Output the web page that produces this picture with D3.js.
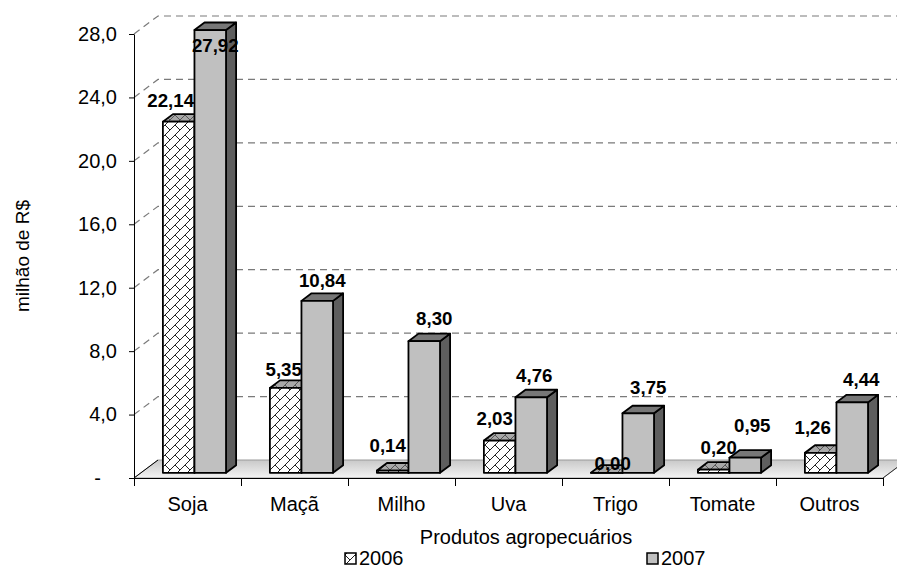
<!DOCTYPE html>
<html>
<head>
<meta charset="utf-8">
<script src="https://cdn.jsdelivr.net/npm/d3@7"></script>
<style>
  body { margin: 0; background: #fff; }
  svg text { font-family: "Liberation Sans", Arial, sans-serif; fill: #000; }
</style>
</head>
<body>
<svg id="chart" width="897" height="570"></svg>
<script>
// Chart data
const categories = ["Soja", "Maçã", "Milho", "Uva", "Trigo", "Tomate", "Outros"];
const years = ["2006", "2007"];
const values2006 = [22.14, 5.35, 0.14, 2.03, 0.00, 0.20, 1.26];
const values2007 = [27.92, 10.84, 8.30, 4.76, 3.75, 0.95, 4.44];
const yTicks = [0, 4, 8, 12, 16, 20, 24, 28];
const xTitle = "Produtos agropecuários";
const yTitle = "milhão de R$";

const series = [
  { year: years[0], values: values2006 },
  { year: years[1], values: values2007 }
];

// Layout of the oblique 3D box
const X0 = 134, X1 = 883, Y0 = 478, YTOP = 34;
const DX = 24, DY = 18;              // depth vector of the floor
const D_FRONT = 0.29, D_BACK = 0.71; // bar depth within the floor
const FONT = 20, LABEL_FONT = 18.7;

const svg = d3.select("#chart");

const x = d3.scaleBand().domain(categories).range([X0, X1]);
const x1 = d3.scaleBand().domain(years)
  .range([x.bandwidth() * 0.205, x.bandwidth() * 0.795]);
const y = d3.scaleLinear().domain([0, 28]).range([Y0, YTOP]);

const P = (px, v, d) => [px + d * DX, y(v) - d * DY];
const poly = pts => "M" + pts.map(p => p.join(",")).join("L") + "Z";

// Patterns and gradients
const defs = svg.append("defs");
const brick = defs.append("pattern")
  .attr("id", "brick").attr("patternUnits", "userSpaceOnUse")
  .attr("width", 10).attr("height", 10);
brick.append("rect").attr("width", 10).attr("height", 10).attr("fill", "#fff");
brick.append("path")
  .attr("d", "M-1,11L11,-1M-1,1L1,-1M9,11L11,9M5,5L10,10M0,10L-1,9M10,0L11,1")
  .attr("stroke", "#222").attr("stroke-width", 1).attr("fill", "none");

const brickTop = defs.append("pattern")
  .attr("id", "brickTop").attr("patternUnits", "userSpaceOnUse")
  .attr("width", 10).attr("height", 10);
brickTop.append("rect").attr("width", 10).attr("height", 10).attr("fill", "#a8a8a8");
brickTop.append("path")
  .attr("d", "M-1,11L11,-1M5,5L10,10")
  .attr("stroke", "#555").attr("stroke-width", 1).attr("fill", "none");

const floorGrad = defs.append("linearGradient")
  .attr("id", "floorGrad").attr("x1", 0).attr("y1", 0).attr("x2", 0).attr("y2", 1);
floorGrad.append("stop").attr("offset", "0%").attr("stop-color", "#c8c8c8");
floorGrad.append("stop").attr("offset", "100%").attr("stop-color", "#f4f4f4");

// Gridlines: side wall diagonal + back wall
const grid = svg.append("g");
grid.selectAll("path")
  .data(yTicks.filter(t => t > 0))
  .join("path")
  .attr("d", t => `M${X0},${y(t)}L${X0 + DX},${y(t) - DY}L${X1 + DX + 10},${y(t) - DY}`)
  .attr("fill", "none")
  .attr("stroke", "#7a7a7a")
  .attr("stroke-width", 1.2)
  .attr("stroke-dasharray", "7,5");

// Floor
svg.append("path")
  .attr("d", poly([P(X0, 0, 0), P(X1, 0, 0), P(X1, 0, 1), P(X0, 0, 1)]))
  .attr("fill", "url(#floorGrad)")
  .attr("stroke", "#9a9a9a").attr("stroke-width", 1);
svg.append("path")
  .attr("d", `M${P(X0, 0, 1).join(",")}L${P(X0, 0, 0).join(",")}`)
  .attr("stroke", "#000").attr("stroke-width", 1).attr("fill", "none");
svg.append("path")
  .attr("d", `M${P(X1, 0, 0).join(",")}L${P(X1, 0, 1).join(",")}`)
  .attr("stroke", "#333").attr("stroke-width", 1).attr("fill", "none");

// Y axis
const fmt = d => d === 0 ? "-" : d.toFixed(1).replace(".", ",");
const yAxis = svg.append("g")
  .attr("transform", `translate(${X0},0)`)
  .call(d3.axisLeft(y).tickValues(yTicks).tickSize(5).tickSizeOuter(0)
    .tickPadding(12).tickFormat(fmt));
yAxis.select(".domain").attr("stroke", "#000");
yAxis.selectAll(".tick line").attr("stroke", "#000");
yAxis.selectAll(".tick text")
  .attr("font-size", FONT).attr("font-family", null)
  .attr("dx", d => d === 0 ? -16 : 0);

// X axis: category boundary ticks
const xBounds = d3.scaleLinear().domain([0, categories.length]).range([X0, X1]);
const xTickAxis = svg.append("g")
  .attr("transform", `translate(0,${Y0})`)
  .call(d3.axisBottom(xBounds).tickValues(d3.range(categories.length + 1))
    .tickSize(8).tickSizeOuter(0).tickFormat(""));
xTickAxis.select(".domain").attr("stroke", "#000");
xTickAxis.selectAll(".tick line").attr("stroke", "#000");

// X axis: category names
const xLabelAxis = svg.append("g")
  .attr("transform", `translate(0,${Y0})`)
  .call(d3.axisBottom(x).tickSize(0).tickPadding(19));
xLabelAxis.select(".domain").remove();
xLabelAxis.selectAll(".tick text").attr("font-size", FONT).attr("font-family", null);

// Bars
const fills = {
  "2006": { front: "url(#brick)", top: "url(#brickTop)", side: "#666" },
  "2007": { front: "#c0c0c0", top: "#777", side: "#5e5e5e" }
};
const bars = svg.append("g");
categories.forEach((c, i) => {
  series.forEach(s => {
    const v = s.values[i];
    const xl = x(c) + x1(s.year);
    const xr = xl + x1.bandwidth();
    const f = fills[s.year];
    const g = bars.append("g")
      .attr("stroke", "#000").attr("stroke-width", 1.8)
      .attr("stroke-linejoin", "round");
    g.append("path").attr("fill", f.side)
      .attr("d", poly([P(xr, 0, D_FRONT), P(xr, 0, D_BACK), P(xr, v, D_BACK), P(xr, v, D_FRONT)]));
    g.append("path").attr("fill", f.top)
      .attr("d", poly([P(xl, v, D_FRONT), P(xr, v, D_FRONT), P(xr, v, D_BACK), P(xl, v, D_BACK)]));
    g.append("path").attr("fill", f.front)
      .attr("d", poly([P(xl, 0, D_FRONT), P(xr, 0, D_FRONT), P(xr, v, D_FRONT), P(xl, v, D_FRONT)]));
  });
});

// Data labels, with the hand adjustments made in the source chart
const labelNudge = {
  "Soja|2006": [-13, 1],
  "Soja|2007": [0, 38],
  "Maçã|2006": [-7, 4],
  "Maçã|2007": [0, 2],
  "Milho|2006": [-10, -3],
  "Milho|2007": [5, 0],
  "Uva|2006": [-10, 0],
  "Uva|2007": [-2, 0],
  "Trigo|2006": [1, 13],
  "Trigo|2007": [5, -4],
  "Tomate|2007": [2, -10],
  "Outros|2006": [-13, -3],
  "Outros|2007": [4, -1]
};
const labels = svg.append("g");
categories.forEach((c, i) => {
  series.forEach(s => {
    const v = s.values[i];
    const nudge = labelNudge[c + "|" + s.year] || [0, 0];
    const cx = x(c) + x1(s.year) + x1.bandwidth() / 2 + 0.5 * DX;
    labels.append("text")
      .attr("x", cx + nudge[0])
      .attr("y", y(v) - 21 + nudge[1])
      .attr("text-anchor", "middle")
      .attr("font-size", LABEL_FONT)
      .attr("font-weight", "bold")
      .text(v.toFixed(2).replace(".", ","));
  });
});

// Axis titles
svg.append("text")
  .attr("x", 526).attr("y", 544)
  .attr("text-anchor", "middle")
  .attr("font-size", FONT)
  .text(xTitle);
svg.append("text")
  .attr("transform", `translate(29,${(Y0 + YTOP) / 2}) rotate(-90)`)
  .attr("text-anchor", "middle").attr("font-size", 19)
  .text(yTitle);

// Legend
const legendPos = { "2006": 345, "2007": 647 };
const legend = svg.append("g");
series.forEach(s => {
  const lx = legendPos[s.year];
  legend.append("rect")
    .attr("x", lx).attr("y", 553).attr("width", 11).attr("height", 11)
    .attr("fill", fills[s.year].front).attr("stroke", "#000").attr("stroke-width", 1.5);
  legend.append("text")
    .attr("x", lx + 14).attr("y", 565).attr("font-size", FONT)
    .text(s.year);
});
</script>
</body>
</html>
